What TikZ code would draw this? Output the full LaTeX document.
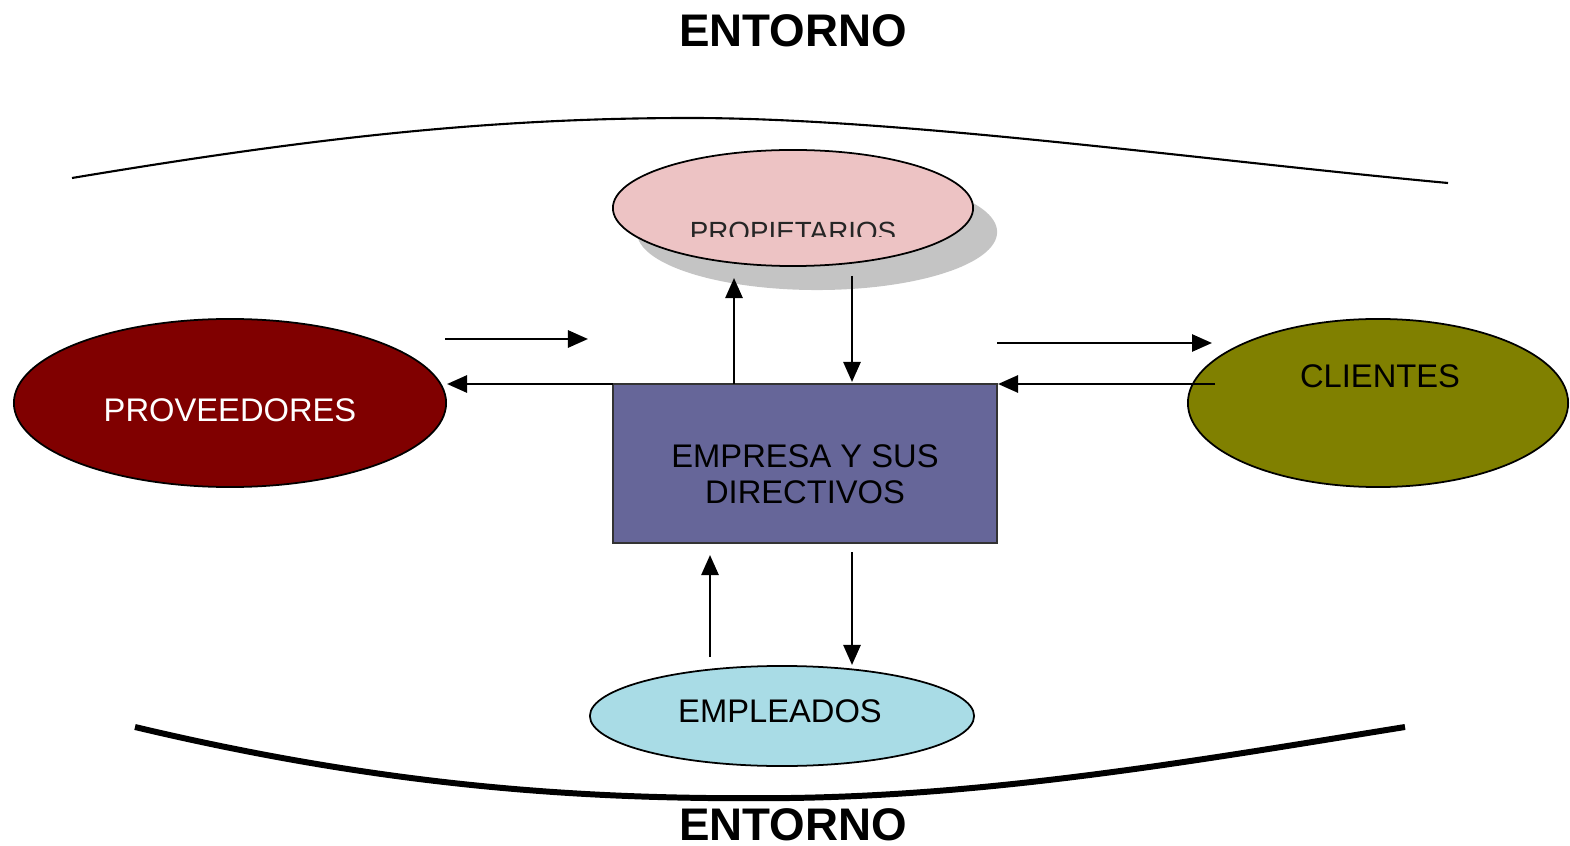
\documentclass[tikz,border=0pt]{standalone}
\usepackage{fontspec}
\setmainfont{Liberation Sans}
\usetikzlibrary{arrows.meta,shapes.geometric}
\definecolor{propcol}{HTML}{EDC3C4}
\definecolor{shadowcol}{HTML}{C4C4C4}
\definecolor{provcol}{HTML}{800000}
\definecolor{clicol}{HTML}{808000}
\definecolor{empcol}{HTML}{666699}
\definecolor{emplcol}{HTML}{A9DCE6}
\begin{document}
\begin{tikzpicture}[x=0.01cm,y=-0.01cm,
  lbl/.style={font=\fontsize{9.3}{11}\selectfont, inner sep=0pt, anchor=base},
  title/.style={font=\bfseries\fontsize{13}{15}\selectfont, inner sep=0pt, anchor=base},
  arr/.style={line width=0.75pt,-{Triangle[length=0.2cm,width=0.17cm]}},
  oval/.style={ellipse, draw=black, line width=0.5pt, inner sep=0pt}]
\useasboundingbox (0,0) rectangle (1570,846);

% environment curves
\draw[line width=0.6pt] (72,178) .. controls (300,140) and (480,118) .. (690,118)
   .. controls (900,118) and (1200,160) .. (1448,183);
\draw[line width=1.7pt] (135,727) .. controls (400,790) and (600,800) .. (790,798)
   .. controls (1000,795) and (1200,760) .. (1405,727);

\node[title] (top) at (793,47) {ENTORNO};
\node[title] (bottom) at (793,840) {ENTORNO};

% shapes
\node[ellipse, fill=shadowcol, minimum width=3.60cm, minimum height=1.16cm] (shadow) at (817,232) {};
\node[oval, fill=propcol, minimum width=3.60cm, minimum height=1.16cm] (prop) at (793,208) {};
\begin{scope}
  \clip (600,150) rectangle (1000,237);
  \node[lbl, font=\fontsize{7.9}{9}\selectfont, text=black!85] (proptxt) at (793,242) {PROPIETARIOS};
\end{scope}

\node[oval, fill=provcol, minimum width=4.32cm, minimum height=1.68cm] (prov) at (230,403) {};
\node[lbl, text=white] (provtxt) at (230,422) {PROVEEDORES};

\node[oval, fill=clicol, minimum width=3.80cm, minimum height=1.68cm] (cli) at (1378,403) {};
\node[lbl] (clitxt) at (1380,387) {CLIENTES};

\node[draw=black!80, line width=0.6pt, fill=empcol, minimum width=3.84cm, minimum height=1.59cm, inner sep=0pt] (emp) at (805,463.5) {};
\node[lbl] (emptxt1) at (805,468) {EMPRESA Y SUS};
\node[lbl] (emptxt2) at (805,503) {DIRECTIVOS};

\node[oval, fill=emplcol, minimum width=3.84cm, minimum height=1.00cm] (empl) at (782,716) {};
\node[lbl] (empltxt) at (780,722) {EMPLEADOS};

% connector end points
\coordinate (a1s) at (445,339); \coordinate (a1e) at (588,339);
\coordinate (a2s) at (613,384); \coordinate (a2e) at (447,384);
\coordinate (a3s) at (734,384); \coordinate (a3e) at (734,278);
\coordinate (a4s) at (852,276); \coordinate (a4e) at (852,382);
\coordinate (a5s) at (997,343); \coordinate (a5e) at (1212,343);
\coordinate (a6s) at (1215,384); \coordinate (a6e) at (998,384);
\coordinate (a7s) at (710,657); \coordinate (a7e) at (710,555);
\coordinate (a8s) at (852,552); \coordinate (a8e) at (852,665);

\draw[arr] (a1s) -- (a1e);
\draw[arr] (a2s) -- (a2e);
\draw[arr] (a3s) -- (a3e);
\draw[arr] (a4s) -- (a4e);
\draw[arr] (a5s) -- (a5e);
\draw[arr] (a6s) -- (a6e);
\draw[arr] (a7s) -- (a7e);
\draw[arr] (a8s) -- (a8e);
\end{tikzpicture}
\end{document}
